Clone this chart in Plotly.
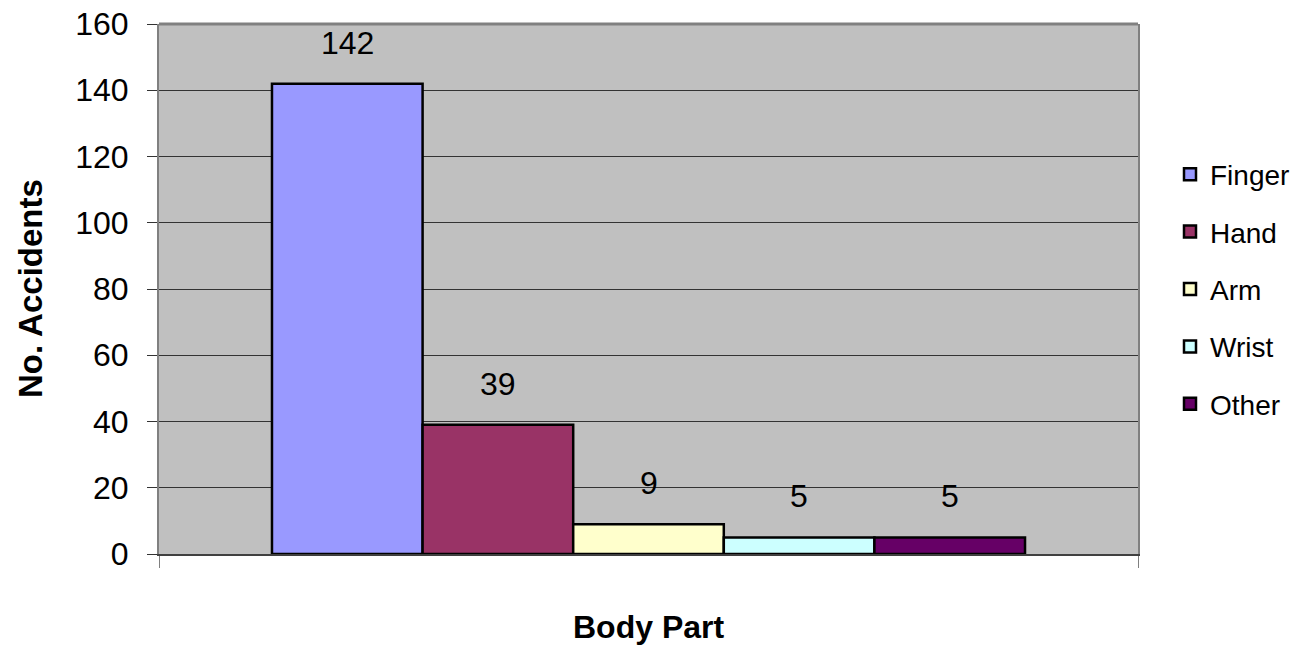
import plotly.graph_objects as go

category = ["Body Part"]
series_names = ["Finger", "Hand", "Arm", "Wrist", "Other"]
series_values = [142, 39, 9, 5, 5]
series_colors = ["#9999FF", "#993366", "#FFFFCC", "#CCFFFF", "#660066"]
y_ticks = [0, 20, 40, 60, 80, 100, 120, 140, 160]

W, H = 1297, 646
ML, MR, MT, MB = 159, 159, 24, 92
plot_w = W - ML - MR
plot_h = H - MT - MB
BARGAP = 0.2308
bar_px = plot_w * (1 - BARGAP) / len(series_names)

FONT = "Liberation Sans, Arial, sans-serif"

fig = go.Figure()
for i, (name, val, col) in enumerate(zip(series_names, series_values, series_colors)):
    fig.add_trace(go.Bar(
        x=category, y=[val], name=name,
        marker=dict(color=col, line=dict(color="black", width=2.5)),
        legendgroup=name,
    ))
    fig.add_annotation(
        x=category[0], y=val, xref="x", yref="y",
        text=str(val), showarrow=False,
        xshift=(i - (len(series_names) - 1) / 2) * bar_px,
        yshift=41, yanchor="middle",
        font=dict(family=FONT, size=32, color="black"),
    )

fig.add_annotation(
    x=(30 - ML) / plot_w, y=0.5, xref="paper", yref="paper",
    xanchor="center", yanchor="middle",
    text="<b>No. Accidents</b>", textangle=-90, showarrow=False,
    font=dict(family=FONT, size=33, color="black"),
)
fig.add_annotation(
    x=0.5, y=(H - MB - 627) / plot_h, xref="paper", yref="paper",
    text="<b>Body Part</b>", showarrow=False, yanchor="middle",
    font=dict(family=FONT, size=32, color="black"),
)

fig.add_shape(type="line", xref="paper", yref="paper", x0=0, x1=1, y0=1, y1=1,
              line=dict(color="#808080", width=3))

fig.update_layout(
    template="none",
    width=W, height=H,
    margin=dict(l=ML, r=MR, t=MT, b=MB, pad=0, autoexpand=False),
    paper_bgcolor="white",
    plot_bgcolor="#C0C0C0",
    barmode="group",
    bargap=BARGAP,
    bargroupgap=0,
    showlegend=True,
    legend=dict(
        x=(1170 - ML) / plot_w, y=0.5, xanchor="left", yanchor="middle",
        font=dict(family=FONT, size=28, color="black"),
        tracegroupgap=18, traceorder="grouped",
        bgcolor="rgba(0,0,0,0)", borderwidth=0,
    ),
    xaxis=dict(
        showticklabels=False, ticks="outside", tickson="boundaries",
        ticklen=12, tickcolor="#808080", tickwidth=1,
        showline=True, linecolor="#404040", linewidth=2, mirror=False,
        showgrid=False, zeroline=False, automargin=False,
    ),
    yaxis=dict(
        range=[0, 160], tickvals=y_ticks,
        ticks="outside", ticklen=10, tickcolor="#333333", tickwidth=1,
        tickfont=dict(family=FONT, size=32, color="black"),
        ticklabelstandoff=12,
        showgrid=True, gridcolor="#333333", gridwidth=1,
        showline=True, linecolor="#808080", linewidth=2, mirror=True,
        zeroline=False, automargin=False,
    ),
)

fig.write_html("out.html", config={"displayModeBar": False},
               post_script="document.body.style.margin='0px';")
